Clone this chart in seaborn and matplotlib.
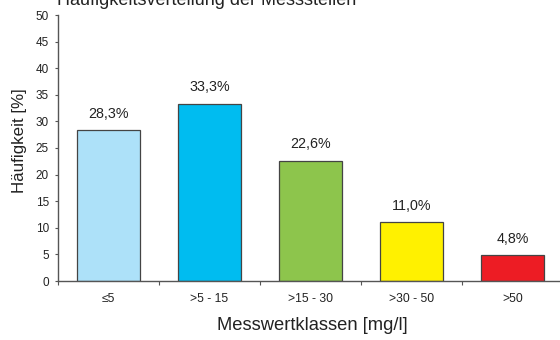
import matplotlib
matplotlib.use("Agg")
import matplotlib.pyplot as plt
import seaborn as sns
import pandas as pd

# Concentration classes and share of measuring sites per class
klassen = ["≤5", ">5 - 15", ">15 - 30", ">30 - 50", ">50"]
anteile = [28.3, 33.3, 22.6, 11.0, 4.8]
labels = ["28,3%", "33,3%", "22,6%", "11,0%", "4,8%"]
farben = ["#ADE1F9", "#00BCF0", "#8DC54C", "#FFF100", "#ED1C24"]
y_ticks = [0, 5, 10, 15, 20, 25, 30, 35, 40, 45, 50]

sns.set_theme(style="white")
plt.rcParams["font.family"] = ["Liberation Sans", "DejaVu Sans"]

df = pd.DataFrame({"Klasse": klassen, "Anteil": anteile})

W, H = 560, 340
fig = plt.figure(figsize=(W / 100, H / 100), dpi=100)
ax = fig.add_axes([58 / W, 59 / H, 505 / W, 266 / H])

sns.barplot(data=df, x="Klasse", y="Anteil", hue="Klasse", palette=farben,
            legend=False, width=0.62, edgecolor="#444444", linewidth=0.9,
            saturation=1, ax=ax)

for i, (v, t) in enumerate(zip(anteile, labels)):
    ax.text(i, v + 1.8, t, ha="center", va="bottom", fontsize=10.3,
            color="#222222")

ax.set_xlim(-0.5, len(klassen) - 0.5)
ax.set_ylim(0, 50)
ax.set_yticks(y_ticks)
ax.set_yticklabels([str(t) for t in y_ticks], fontsize=8.5, color="#222222")
ax.set_xticks(range(len(klassen)))
ax.set_xticklabels(klassen, fontsize=8.7, color="#222222")
ax.set_xticks([i + 0.5 for i in range(-1, len(klassen))], minor=True)
ax.tick_params(axis="x", which="major", length=0, pad=9)
ax.tick_params(axis="x", which="minor", length=3, width=0.8, color="#555555",
               direction="out", bottom=True)
ax.tick_params(axis="y", length=2.5, width=0.8, color="#555555",
               direction="out", left=True, pad=4)

for s in ["top", "right"]:
    ax.spines[s].set_visible(False)
for s in ["left", "bottom"]:
    ax.spines[s].set_color("#555555")
    ax.spines[s].set_linewidth(1.0)

ax.set_xlabel("")
ax.set_ylabel("")
fig.text(312 / W, 1 - 325 / H, "Messwertklassen [mg/l]", ha="center",
         va="center", fontsize=13.2, color="#222222")
fig.text(20 / W, 1 - 141 / H, "Häufigkeit [%]", ha="center", va="center",
         rotation=90, fontsize=12.2, color="#222222")
fig.text(57 / W, 1 - 5 / H, "Häufigkeitsverteilung der Messstellen",
         ha="left", va="baseline", fontsize=13, color="#222222")

fig.savefig("out.png", dpi=100)
